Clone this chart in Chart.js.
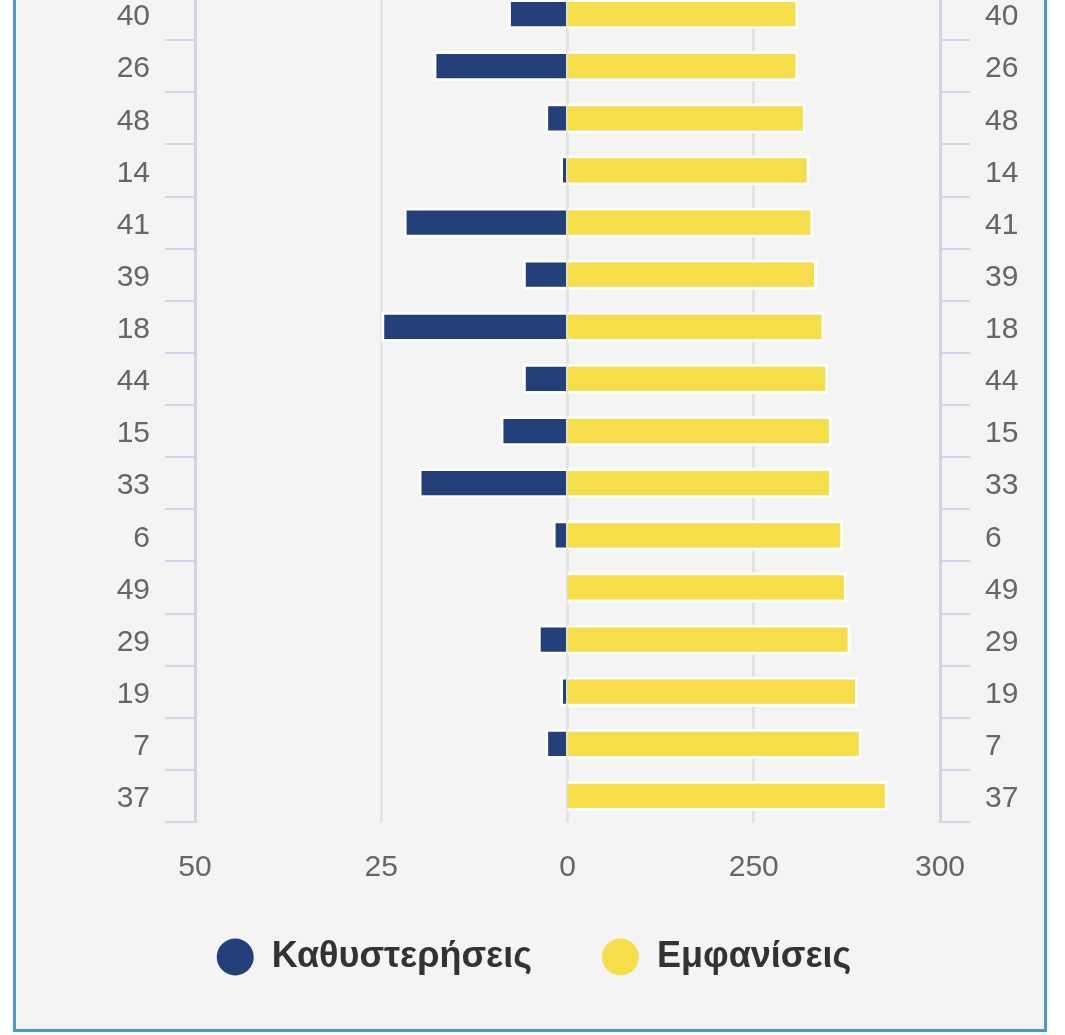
<!DOCTYPE html>
<html>
<head>
<meta charset="utf-8">
<script src="https://cdn.jsdelivr.net/npm/chart.js@4"></script>
<style>
  html, body { margin: 0; padding: 0; background: #fff; overflow: hidden; }
  body { width: 1065px; height: 1035px; position: relative; }
  .frame {
    position: absolute; left: 13px; top: -10px;
    width: 1028px; height: 1036px;
    border: 3px solid #4c98cc;
    background: #f4f4f4;
  }
  #chart { position: absolute; left: 0; top: -60px; }
</style>
</head>
<body>
<div class="frame"></div>
<canvas id="chart" width="1065" height="1095"></canvas>
<script>
const categories = ["40", "26", "48", "14", "41", "39", "18", "44", "15", "33", "6", "49", "29", "19", "7", "37"];
const delays = [8, 18, 3, 1, 22, 6, 25, 6, 9, 20, 2, 0, 4, 1, 3, 0];
const appearances = [262, 262, 264, 265, 266, 267, 269, 270, 271, 271, 274, 275, 276, 278, 279, 286];
const seriesNames = ["Καθυστερήσεις", "Εμφανίσεις"];

const FONT = "'Liberation Sans', Arial, Helvetica, sans-serif";
const lavender = "#cdd5e7";
const gridGray = "#e3e3e3";

const yAxis = (position, width) => ({
  type: "category",
  position: position,
  labels: categories,
  grid: { offset: true, drawOnChartArea: false, tickLength: 30, color: lavender, lineWidth: 2 },
  border: { color: lavender, width: 3 },
  ticks: { padding: 15, labelOffset: 3, color: "#666", font: { family: FONT, size: 30 } },
  afterFit: (s) => { s.width = width; },
});

// two half-width x axes side by side; the stack keeps the tallest height
// seen while fitting, so pin it
const xAxis = (extra) => ({
  type: "linear",
  position: "bottom",
  stack: "x",
  stackWeight: 1,
  border: { display: false },
  afterFit: (s) => { s.height = 64; },
  ...extra,
});

// the legend sits a little closer to the axis labels than its padding allows
const legendNudge = {
  id: "legendNudge",
  afterLayout(chart) {
    chart.legend.top -= 17;
    chart.legend.bottom -= 17;
  },
};

const ctx = document.getElementById("chart").getContext("2d");

new Chart(ctx, {
  type: "bar",
  data: {
    labels: categories,
    datasets: [
      {
        label: seriesNames[0],
        data: delays,
        xAxisID: "x",
        yAxisID: "y",
        backgroundColor: "#24407a",
        borderColor: "#ffffff",
        borderWidth: 3,
        borderSkipped: "start",
        grouped: false,
        barPercentage: 0.58,
        categoryPercentage: 1,
      },
      {
        label: seriesNames[1],
        data: appearances,
        xAxisID: "x2",
        yAxisID: "y",
        backgroundColor: "#f5de4a",
        borderColor: "#ffffff",
        borderWidth: 3,
        borderSkipped: false,
        grouped: false,
        barPercentage: 0.58,
        categoryPercentage: 1,
      },
    ],
  },
  plugins: [legendNudge],
  options: {
    indexAxis: "y",
    responsive: false,
    animation: false,
    layout: { padding: { top: 48, bottom: 33, left: 45, right: 42 } },
    scales: {
      x: xAxis({
        reverse: true,
        min: 0,
        max: 50,
        grid: {
          drawTicks: false,
          lineWidth: 3,
          color: (c) => (c.tick && c.tick.value === 50 ? "rgba(0,0,0,0)" : gridGray),
        },
        ticks: { stepSize: 25, maxRotation: 0, padding: 28, color: "#666", font: { family: FONT, size: 30 } },
      }),
      x2: xAxis({
        min: 200,
        max: 300,
        grid: {
          drawTicks: false,
          lineWidth: 3,
          color: (c) => (c.tick && c.tick.value === 300 ? "rgba(0,0,0,0)" : gridGray),
        },
        ticks: {
          stepSize: 50,
          maxRotation: 0,
          padding: 28,
          color: "#666",
          font: { family: FONT, size: 30 },
          callback: (v) => (v === 200 ? "" : v),
        },
      }),
      y: yAxis("left", 150),
      y2: yAxis("right", 83),
    },
    plugins: {
      tooltip: { enabled: false },
      legend: {
        position: "bottom",
        labels: {
          usePointStyle: true,
          pointStyle: "circle",
          boxHeight: 26,
          pointStyleWidth: 37,
          padding: 70,
          color: "#333",
          font: { family: FONT, size: 36, weight: "bold" },
          generateLabels: (chart) =>
            Chart.defaults.plugins.legend.labels.generateLabels(chart).map((l) => ({ ...l, lineWidth: 0, strokeStyle: "rgba(0,0,0,0)" })),
        },
      },
    },
  },
});
</script>
</body>
</html>
